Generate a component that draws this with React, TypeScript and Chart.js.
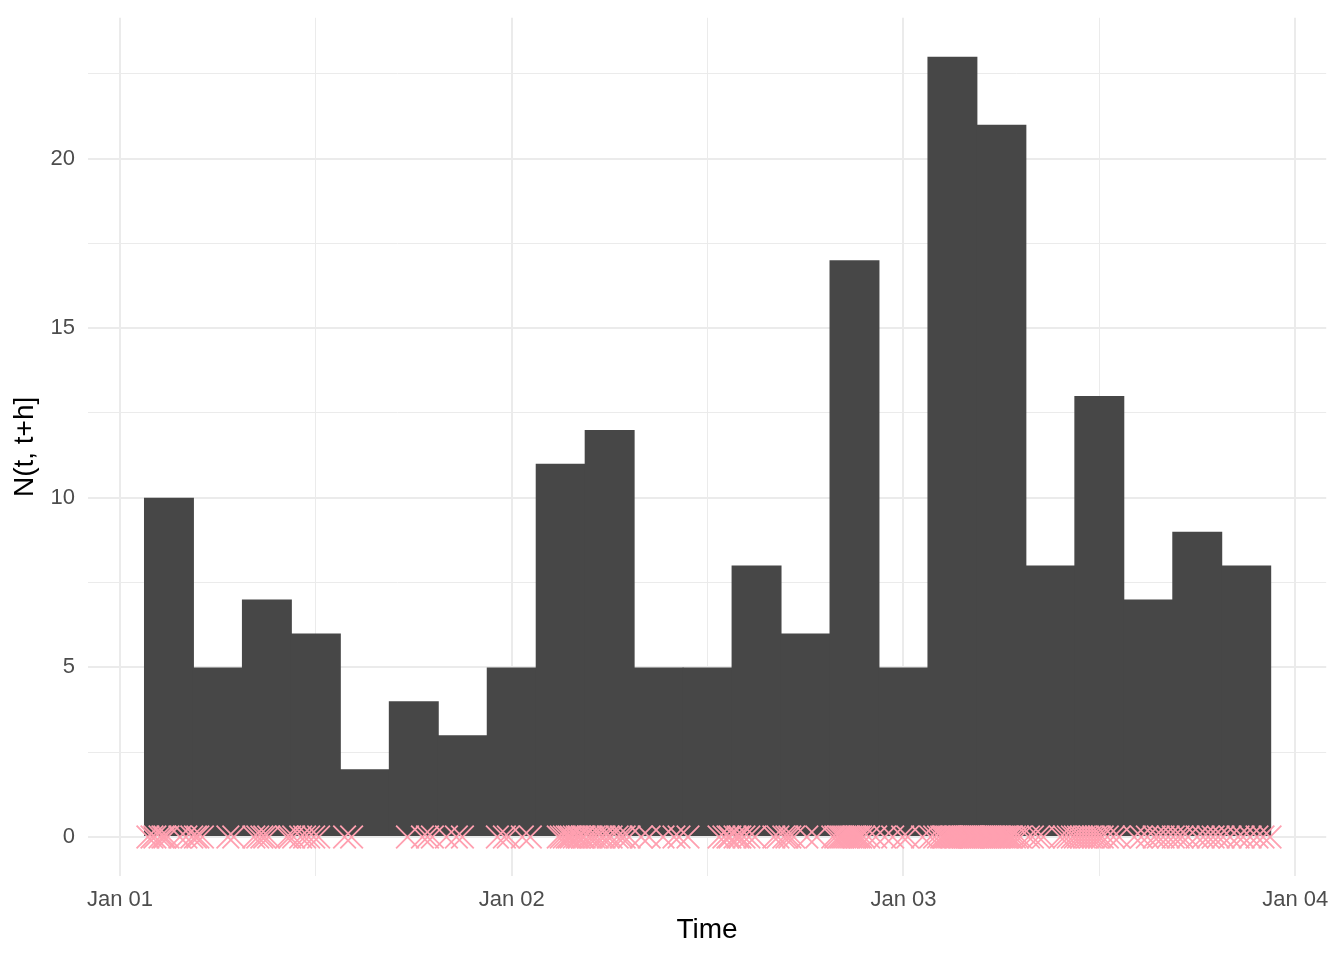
import React, { useEffect, useRef } from 'react';
import { Chart, registerables } from 'chart.js';

Chart.register(...registerables);

// Histogram bins (centre of each 3-hour bin, in hours since Jan 01 00:00)
const binCenters = [3, 6, 9, 12, 15, 18, 21, 24, 27, 30, 33, 36, 39, 42, 45, 48, 51, 54, 57, 60, 63, 66, 69];
const binCounts = [10, 5, 7, 6, 2, 4, 3, 5, 11, 12, 5, 5, 8, 6, 17, 5, 23, 21, 8, 13, 7, 9, 8];

const eventHours = [
  1.71, 1.96, 2.14, 2.45, 2.63, 2.75, 2.94, 3.67, 4.04, 4.4,
  4.62, 4.77, 5.05, 6.61, 6.97,
  8.2, 8.44, 8.69, 8.87, 9.11, 10.21, 10.4,
  10.64, 11.07, 11.31, 11.56, 11.87, 12.17,
  13.76, 14.19,
  17.61, 18.53, 18.84, 19.14,
  20.0, 20.61, 20.98,
  23.12, 23.55, 23.79, 24.65, 25.14,
  26.85, 27.03, 27.22, 27.4, 27.52, 27.65, 27.83, 28.01, 28.13, 28.32, 28.44,
  28.69, 28.87, 29.05, 29.24, 29.48, 29.66, 29.91, 30.09, 30.46, 30.7, 30.89, 31.19,
  31.93, 32.42, 33.27, 33.94, 34.25,
  34.8, 36.7, 37.0, 37.25, 37.37,
  37.68, 37.86, 37.98, 38.23, 38.53, 38.9, 40.06, 40.31,
  40.67, 40.86, 41.04, 41.28, 42.08, 42.69,
  43.67, 43.85, 44.04, 44.16, 44.28, 44.4, 44.53, 44.65, 44.77, 44.89, 45.02, 45.14, 45.26, 45.38, 45.57, 45.87, 46.3,
  46.85, 47.34, 47.95, 48.26, 49.17,
  49.66, 49.91, 50.15, 50.34, 50.46, 50.58, 50.7, 50.83, 50.95, 51.07, 51.19, 51.31, 51.44, 51.56, 51.68, 51.8, 51.93, 52.05, 52.11, 52.17, 52.23, 52.29, 52.42,
  52.54, 52.66, 52.78, 52.91, 53.03, 53.15, 53.27, 53.39, 53.52, 53.64, 53.76, 53.88, 54.01, 54.13, 54.25, 54.37, 54.5, 54.62, 54.8, 54.98, 55.17,
  55.66, 55.9, 56.27, 56.57, 57.61, 57.86, 58.1, 58.35,
  58.53, 58.72, 58.9, 59.08, 59.27, 59.45, 59.63, 59.82, 60.0, 60.18, 60.49, 60.86, 61.22,
  62.14, 62.57, 62.94, 63.36, 63.61, 63.91, 64.22,
  64.53, 64.83, 65.08, 65.44, 65.99, 66.36, 66.67, 66.97, 67.28,
  67.58, 68.01, 68.5, 68.81, 69.24, 69.66, 70.03, 70.46,
];

const xTickHours = [0, 12, 24, 36, 48, 60, 72];
const xTickLabels = ['Jan 01', '', 'Jan 02', '', 'Jan 03', '', 'Jan 04'];
const yTickValues = [0, 2.5, 5, 7.5, 10, 12.5, 15, 17.5, 20, 22.5];
const yTickLabels = ['0', '', '5', '', '10', '', '15', '', '20', ''];

const FONT = '"Liberation Sans", Arial, Helvetica, sans-serif';

export default function App() {
  const ref = useRef<HTMLCanvasElement | null>(null);

  useEffect(() => {
    if (!ref.current) return;
    const chart = new Chart(ref.current, {
      type: 'bar',
      data: {
        datasets: [
          {
            type: 'scatter',
            order: 0,
            data: eventHours.map((h) => ({ x: h, y: 0 })),
            pointStyle: 'crossRot',
            pointRadius: 16,
            pointHoverRadius: 16,
            borderColor: '#FFA0B0',
            backgroundColor: '#FFA0B0',
            pointBorderWidth: 1.8,
            borderWidth: 1.8,
          } as any,
          {
            type: 'bar',
            order: 1,
            data: binCenters.map((c, i) => ({ x: c, y: binCounts[i] })),
            backgroundColor: '#474747',
            borderWidth: 0,
            barPercentage: 1.02,
            categoryPercentage: 1,
          } as any,
        ],
      },
      options: {
        animation: false,
        responsive: false,
        maintainAspectRatio: false,
        layout: { padding: { top: 14, right: 16, bottom: 0, left: 0 } },
        plugins: { legend: { display: false }, tooltip: { enabled: false } },
        scales: {
          x: {
            type: 'linear',
            offset: false,
            min: -1.96,
            max: 73.9,
            afterBuildTicks: (scale: any) => {
              scale.ticks = xTickHours.map((v) => ({ value: v }));
            },
            afterFit: (scale: any) => {
              scale.height = 84;
              scale.paddingLeft = 0;
              scale.paddingRight = 0;
              scale.paddingTop = 0;
              scale.paddingBottom = 0;
            },
            grid: {
              offset: false,
              color: '#EBEBEB',
              lineWidth: (ctx: any) => (ctx.index % 2 === 0 ? 2 : 1),
              drawTicks: false,
            },
            border: { display: false },
            ticks: {
              autoSkip: false,
              maxRotation: 0,
              minRotation: 0,
              padding: 11,
              color: '#4D4D4D',
              font: { family: FONT, size: 22 },
              callback: (_v: any, i: number) => xTickLabels[i],
            },
            title: {
              display: true,
              text: 'Time',
              color: '#000000',
              font: { family: FONT, size: 28 },
              padding: { top: 0, bottom: 13 },
            },
          },
          y: {
            type: 'linear',
            min: -1.15,
            max: 24.15,
            afterBuildTicks: (scale: any) => {
              scale.ticks = yTickValues.map((v) => ({ value: v }));
            },
            afterFit: (scale: any) => {
              scale.width = 88;
              scale.paddingLeft = 0;
              scale.paddingRight = 0;
              scale.paddingTop = 0;
              scale.paddingBottom = 0;
            },
            grid: {
              color: '#EBEBEB',
              lineWidth: (ctx: any) => (ctx.index % 2 === 0 ? 2 : 1),
              drawTicks: false,
            },
            border: { display: false },
            ticks: {
              autoSkip: false,
              padding: 13,
              color: '#4D4D4D',
              font: { family: FONT, size: 22 },
              callback: (_v: any, i: number) => yTickLabels[i],
            },
            title: {
              display: true,
              text: 'N(t, t+h]',
              color: '#000000',
              font: { family: FONT, size: 28 },
              padding: { top: 8, bottom: 0 },
            },
          },
        },
      } as any,
    });
    return () => chart.destroy();
  }, []);

  return (
    <div style={{ position: 'fixed', left: 0, top: 0, width: 1344, height: 960, background: '#FFFFFF' }}>
      <canvas ref={ref} width={1344} height={960} style={{ display: 'block', width: 1344, height: 960 }} />
    </div>
  );
}
